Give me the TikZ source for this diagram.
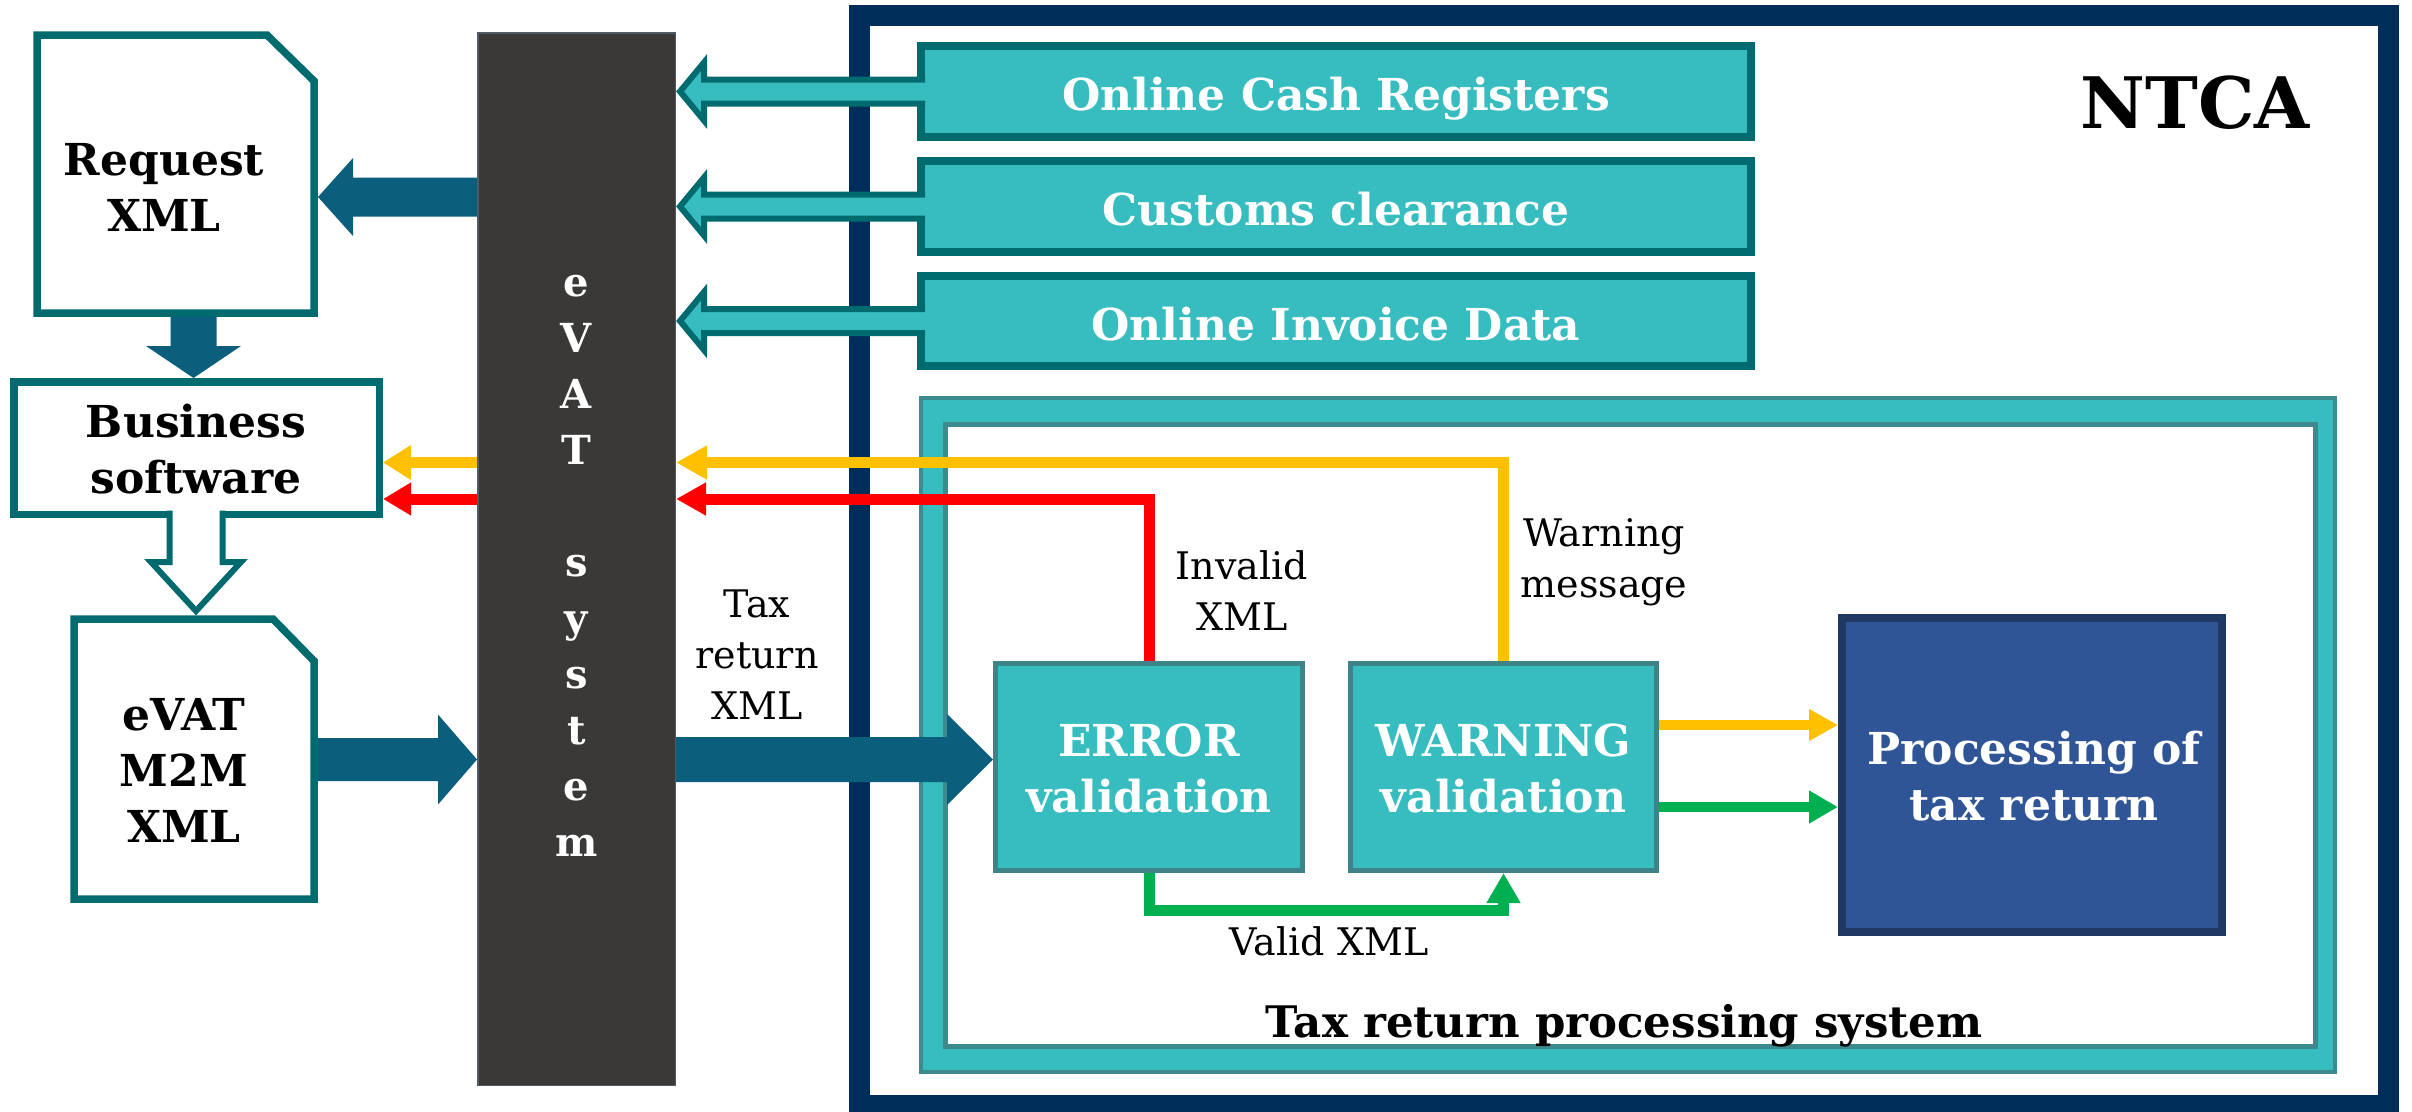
\documentclass[tikz,border=0pt]{standalone}
\usepackage{fontspec}
\setmainfont{DejaVu Serif}
\usetikzlibrary{arrows.meta,calc}
\definecolor{navy}{HTML}{002E5A}
\definecolor{tealF}{HTML}{37BCBF}
\definecolor{tealD}{HTML}{006B6E}
\definecolor{tealM}{HTML}{3D8A8E}
\definecolor{boxD}{HTML}{3E8388}
\definecolor{darkbar}{HTML}{3A3938}
\definecolor{barE}{HTML}{4F5B66}
\definecolor{arrblue}{HTML}{0B5F7D}
\definecolor{procF}{HTML}{2F5597}
\definecolor{procD}{HTML}{203864}
\definecolor{yel}{HTML}{FFC000}
\definecolor{redc}{HTML}{FF0000}
\definecolor{grn}{HTML}{00B050}
\newcommand\stt{\rule{0pt}{40pt}}
\newcommand\stb{\rule[-40pt]{0pt}{40pt}}
% horizontal block arrow: style, tail, tip, shaft half width, head half width, head length (signed)
\newcommand\hblock[6]{\path[#1] let \p1=(#2), \p2=(#3) in ({\x1},{\y2+#4}) -- ({\x2-(#6)},{\y2+#4}) -- ({\x2-(#6)},{\y2+#5}) -- ({\x2},{\y2}) -- ({\x2-(#6)},{\y2-#5}) -- ({\x2-(#6)},{\y2-#4}) -- ({\x1},{\y2-#4});}
% vertical block arrow
\newcommand\vblock[6]{\path[#1] let \p1=(#2), \p2=(#3) in ({\x2+#4},{\y1}) -- ({\x2+#4},{\y2-(#6)}) -- ({\x2+#5},{\y2-(#6)}) -- ({\x2},{\y2}) -- ({\x2-#5},{\y2-(#6)}) -- ({\x2-#4},{\y2-(#6)}) -- ({\x2-#4},{\y1});}
\begin{document}
\begin{tikzpicture}[x=1pt,y=-1pt,
  tb/.style={draw=tealD, fill=tealF, line width=8pt, inner sep=0pt, minimum width=830pt},
  bl/.style={font=\bfseries\fontsize{44}{56}\selectfont, align=center, inner sep=0pt},
  wl/.style={bl, text=white},
  rl/.style={font=\fontsize{38}{51}\selectfont, align=center, inner sep=0pt},
  hol/.style={draw=tealD, fill=tealF, line width=6pt, line join=miter},
  docshape/.style={draw=tealD, fill=white, line width=7.5pt, line join=miter}]
\useasboundingbox (0,0) rectangle (2412,1111);
\fill[white] (0,0) rectangle (2412,1111);
% NTCA frame
\node[draw=navy, line width=21pt, inner sep=0pt, minimum width=1529pt, minimum height=1090pt] (ntca) at (1624,560.5) {};
% tax return processing frame
\node[draw=tealM, fill=tealF, line width=4pt, inner sep=0pt, minimum width=1414pt, minimum height=674pt] (tframe) at (1628,735) {};
\node[draw=tealM, fill=white, line width=5pt, inner sep=0pt, minimum width=1370pt, minimum height=622pt] (tinner) at (1630.5,735.5) {};
% eVAT bar
\node[draw=barE, fill=darkbar, line width=1.5pt, inner sep=0pt, minimum width=197.5pt, minimum height=1052.5pt] (bar) at (576.5,559) {};
% source boxes
\node[tb, minimum height=91pt] (ocr) at (1336,91.5) {};
\node[tb, minimum height=91pt] (cus) at (1336,206.5) {};
\node[tb, minimum height=90pt] (oid) at (1336,321) {};
\coordinate (ocrA) at ($(ocr.west)+(8,0)$);
\coordinate (cusA) at ($(cus.west)+(8,0)$);
\coordinate (oidA) at ($(oid.west)+(8,0)$);
\coordinate (ocrB) at ($(bar.east |- ocr.center)+(4,0)$);
\coordinate (cusB) at ($(bar.east |- cus.center)+(4,0)$);
\coordinate (oidB) at ($(bar.east |- oid.center)+(4,0)$);
\hblock{hol}{ocrA}{ocrB}{12pt}{29pt}{-24pt}
\hblock{hol}{cusA}{cusB}{12pt}{29pt}{-24pt}
\hblock{hol}{oidA}{oidB}{12pt}{29pt}{-24pt}
% documents and business software
\draw[docshape] (37,35) -- (267,35) -- (314,81) -- (314,313) -- (37,313) -- cycle;
\coordinate (reqE) at (318,197);
\coordinate (reqS) at (193.5,317);
\node[draw=tealD, fill=white, line width=7.5pt, inner sep=0pt, minimum width=365.5pt, minimum height=132.5pt] (bsw) at (196.5,448) {};
\draw[docshape] (74,619) -- (273,619) -- (314,661) -- (314,899) -- (74,899) -- cycle;
\coordinate (evN) at (196,611);
\coordinate (evE) at (318,759.5);
\coordinate (bswS) at ($(bsw.south)+(0,-7.5)$);
% validation boxes
\node[draw=boxD, fill=tealF, line width=5pt, inner sep=0pt, minimum width=307pt, minimum height=207pt] (err) at (1149,767) {};
\node[draw=boxD, fill=tealF, line width=5pt, inner sep=0pt, minimum width=306pt, minimum height=207pt] (warn) at (1503.5,767) {};
\node[draw=procD, fill=procF, line width=8pt, inner sep=0pt, minimum width=380pt, minimum height=314pt] (proc) at (2032,775) {};
% block arrows
\hblock{fill=arrblue}{bar.west |- reqE}{reqE}{19.5pt}{39pt}{-35pt}
\vblock{fill=arrblue}{reqS}{reqS |- bsw.north}{23pt}{47.5pt}{-32pt}
\vblock{draw=tealD, fill=white, line width=6pt, line join=miter}{bswS}{evN}{26.5pt}{45pt}{-49pt}
\hblock{fill=arrblue}{evE}{bar.west |- evE}{21.5pt}{45pt}{39pt}
\hblock{fill=arrblue}{bar.east |- evE}{err.west |- evE}{22.5pt}{45.5pt}{46pt}
% line arrows
\coordinate (redY) at (0,499);
\coordinate (yelY) at (0,462.5);
\coordinate (yelP) at (0,725);
\coordinate (grnP) at (0,807);
\coordinate (valY) at (0,910);
\draw[redc, line width=11pt, line join=miter, -{Triangle[length=30pt,width=31pt]}] (err.north) -- (err.north |- redY) -- (bar.east |- redY);
\draw[yel, line width=10.5pt, line join=miter, -{Triangle[length=31pt,width=32pt]}] (warn.north) -- (warn.north |- yelY) -- (bar.east |- yelY);
\draw[yel, line width=11pt, -{Triangle[length=28pt,width=33pt]}] (bar.west |- yelY) -- (bsw.east |- yelY);
\draw[redc, line width=11pt, -{Triangle[length=28pt,width=31pt]}] (bar.west |- redY) -- (bsw.east |- redY);
\draw[yel, line width=10pt, -{Triangle[length=29pt,width=30pt]}] (warn.east |- yelP) -- (proc.west |- yelP);
\draw[grn, line width=10pt, -{Triangle[length=29pt,width=31pt]}] (warn.east |- grnP) -- (proc.west |- grnP);
\draw[grn, line width=11pt, line join=miter, -{Triangle[length=30pt,width=32pt]}] (err.south) -- (err.south |- valY) -- (warn.south |- valY) -- (warn.south);
% texts
\node[bl] (reqT) at (164,203.5) {\stt Request\\XML\stb};
\node[bl] (bswT) at (196,465.5) {\stt Business\\software\stb};
\node[bl] (evT) at (184,786.5) {\stt eVAT\\M2M\\XML\stb};
\node[wl, font=\bfseries\fontsize{40}{56}\selectfont] (barT) at (576.5,576) {\stt e\\V\\A\\T\\\mbox{}\\s\\y\\s\\t\\e\\m\stb};
\node[wl, anchor=base] (ocrT) at ($(ocr.center)+(0,19)$) {Online Cash Registers};
\node[wl, anchor=base] (cusT) at ($(cus.center)+(0,18.5)$) {Customs clearance};
\node[wl, anchor=base] (oidT) at ($(oid.center)+(0,19)$) {Online Invoice Data};
\node[bl, font=\bfseries\fontsize{71}{80}\selectfont, anchor=base] (ntcaT) at (2195,128) {NTCA};
\node[rl] (taxT) at (757,668) {\stt Tax\\return\\XML\stb};
\node[rl] (invT) at (1242,604.5) {\stt Invalid\\XML\stb};
\node[rl] (warnT) at (1604,572) {\stt Warning\\message\stb};
\node[wl] (errT) at (1149,784.5) {\stt ERROR\\validation\stb};
\node[wl] (warnBT) at (1503.5,784.5) {\stt WARNING\\validation\stb};
\node[wl] (procT) at (2034,792.5) {\stt Processing of\\tax return\stb};
\node[rl, anchor=base] (valT) at (1329,955) {Valid XML};
\node[bl, font=\bfseries\fontsize{43.5}{50}\selectfont, anchor=base] (tprT) at (1624,1037) {Tax return processing system};
\end{tikzpicture}
\end{document}
